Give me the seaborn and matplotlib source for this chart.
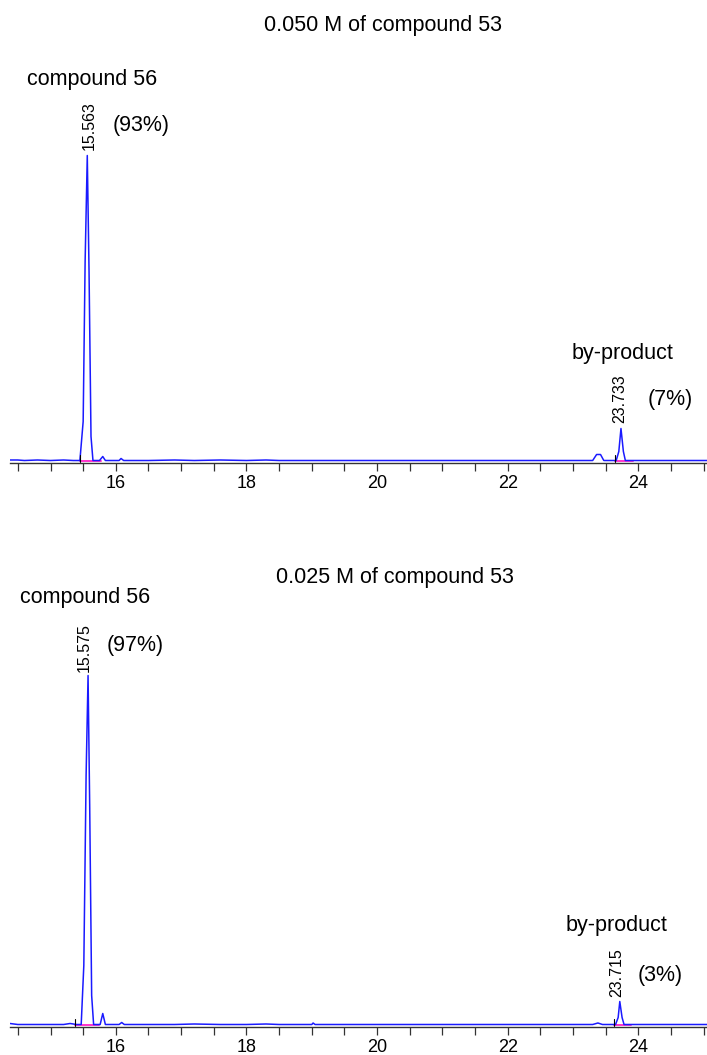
import numpy as np
import pandas as pd
import matplotlib
matplotlib.use("Agg")
import matplotlib.pyplot as plt
from matplotlib.ticker import MultipleLocator
import seaborn as sns

# chromatogram traces (time in min, signal in arbitrary units)
time_a = [14.38, 14.5, 14.6, 14.8, 15.0, 15.2, 15.35, 15.45, 15.50, 15.53, 15.563,
	15.59, 15.62, 15.65, 15.75, 15.80, 15.84, 16.05, 16.08, 16.12, 16.5, 16.9,
	17.2, 17.6, 18.0, 18.3, 18.5, 19.0, 20.0, 21.0, 22.0, 23.0, 23.30, 23.36,
	23.42, 23.47, 23.66, 23.70, 23.733, 23.77, 23.80, 24.0, 25.1]
signal_a = [1.5, 1.5, 1.0, 1.5, 1.0, 1.5, 1.0, 1.0, 40, 200, 306,
	190, 25, 1.0, 1.0, 5, 1.0, 1.0, 3, 1.0, 1.0, 1.5,
	1.0, 1.5, 1.0, 1.5, 1.0, 1.0, 1.0, 1.0, 1.0, 1.0, 1.0, 7,
	7, 1.0, 1.0, 10, 33, 10, 1.0, 1.0, 1.0]

time_b = [14.38, 14.5, 14.7, 15.0, 15.2, 15.30, 15.40, 15.47, 15.51, 15.545, 15.575,
	15.60, 15.63, 15.66, 15.76, 15.80, 15.84, 16.05, 16.09, 16.13, 16.5, 16.9,
	17.2, 17.6, 18.0, 18.3, 18.5, 19.0, 19.02, 19.05, 20.0, 21.0, 22.0, 23.0,
	23.30, 23.38, 23.45, 23.65, 23.69, 23.715, 23.75, 23.78, 24.0, 25.2]
signal_b = [2.0, 1.0, 1.0, 1.0, 1.0, 2.0, 1.0, 1.0, 60, 250, 350,
	220, 30, 1.0, 1.0, 12, 1.0, 1.0, 3, 1.0, 1.0, 1.0,
	1.5, 1.0, 1.0, 1.5, 1.0, 1.0, 2.5, 1.0, 1.0, 1.0, 1.0, 1.0,
	1.0, 2.5, 1.0, 1.0, 8, 24, 8, 1.0, 1.0, 1.0]

# integration baselines (start, end)
integ_a = [(15.45, 15.78), (23.64, 23.92)]
integ_b = [(15.38, 15.75), (23.63, 23.89)]

titles = ["0.050 M of compound 53", "0.025 M of compound 53"]
peak_times = ["15.563", "15.575"]
main_pct = ["(93%)", "(97%)"]
byprod_times = ["23.733", "23.715"]
byprod_pct = ["(7%)", "(3%)"]

sns.set_style("white")
plt.rcParams["font.family"] = ["Liberation Sans", "DejaVu Sans"]
plt.rcParams["text.color"] = "black"
plt.rcParams["xtick.color"] = "black"

W, H = 707, 1055
fig = plt.figure(figsize = (W / 100, H / 100), dpi = 100)

def px(x, y):
	return x / W, 1 - y / H

# axes boxes from pixel positions: left, bottom(px), top(px)
ax1 = fig.add_axes([10 / W, 1 - 463 / H, 697 / W, (463 - 140) / H])
ax2 = fig.add_axes([10 / W, 1 - 1027 / H, 697 / W, (1027 - 660) / H])

def draw_trace(ax, t, s, integ, ymax):
	df = pd.DataFrame({"time": t, "signal": s})
	sns.lineplot(data = df, x = "time", y = "signal", ax = ax, color = "#1a1aff",
		lw = 1.1, estimator = None)
	for start, end in integ:
		ax.plot([start, end], [0.8, 0.8], color = "#ff33cc", lw = 1.4, zorder = 1)
		ax.plot([start, start], [0, 7], color = "black", lw = 0.8)
	ax.set_xlim(14.38, 25.05)
	ax.set_ylim(-1.5, ymax)
	for side in ["top", "left", "right"]:
		ax.spines[side].set_visible(False)
	ax.spines["bottom"].set_color("#333333")
	ax.spines["bottom"].set_linewidth(1.0)
	ax.xaxis.set_major_locator(MultipleLocator(2))
	ax.xaxis.set_minor_locator(MultipleLocator(0.5))
	ax.tick_params(axis = "x", which = "both", direction = "out", length = 6,
		width = 0.9, color = "#333333", labelcolor = "black", bottom = True,
		labelsize = 13, pad = 2.5)
	ax.set_yticks([])
	ax.set_xlabel("")
	ax.set_ylabel("")

draw_trace(ax1, time_a, signal_a, integ_a, 463 - 140 - 1.5)
draw_trace(ax2, time_b, signal_b, integ_b, 1027 - 660 - 1.5)

fs = 15.5
nfs = 11.5
# top panel labels
fig.text(*px(383, 25), titles[0], ha = "center", va = "center", fontsize = fs)
fig.text(*px(27, 80), "compound 56", ha = "left", va = "center", fontsize = fs)
fig.text(*px(89, 126), peak_times[0], ha = "center", va = "center", rotation = 90, fontsize = nfs)
fig.text(*px(113, 126), main_pct[0], ha = "left", va = "center", fontsize = fs)
fig.text(*px(572, 353), "by-product", ha = "left", va = "center", fontsize = fs)
fig.text(*px(620, 399), byprod_times[0], ha = "center", va = "center", rotation = 90, fontsize = nfs)
fig.text(*px(648, 400), byprod_pct[0], ha = "left", va = "center", fontsize = fs)

# bottom panel labels
fig.text(*px(395, 578), titles[1], ha = "center", va = "center", fontsize = fs)
fig.text(*px(20, 598), "compound 56", ha = "left", va = "center", fontsize = fs)
fig.text(*px(84, 648), peak_times[1], ha = "center", va = "center", rotation = 90, fontsize = nfs)
fig.text(*px(107, 646), main_pct[1], ha = "left", va = "center", fontsize = fs)
fig.text(*px(566, 925), "by-product", ha = "left", va = "center", fontsize = fs)
fig.text(*px(617, 973), byprod_times[1], ha = "center", va = "center", rotation = 90, fontsize = nfs)
fig.text(*px(638, 975), byprod_pct[1], ha = "left", va = "center", fontsize = fs)

fig.savefig("out.png", dpi = 100)
